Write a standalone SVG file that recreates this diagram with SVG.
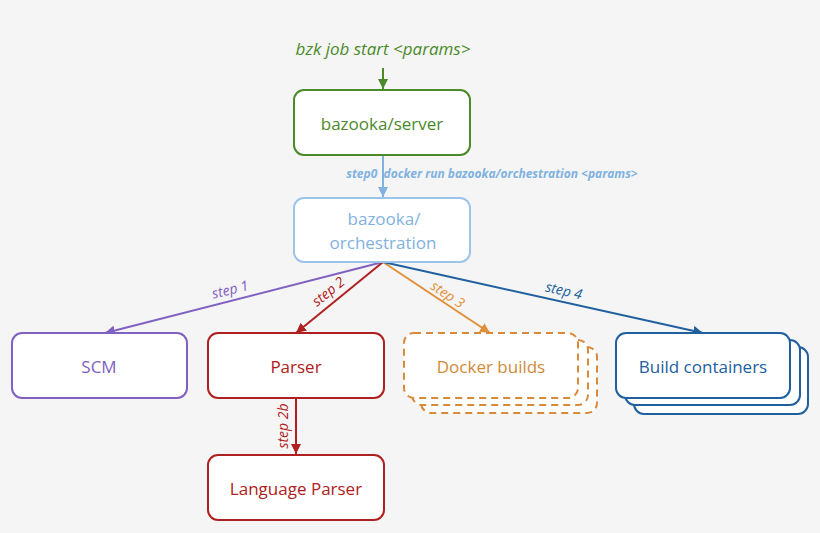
<svg xmlns="http://www.w3.org/2000/svg" width="820" height="533" viewBox="0 0 820 533">
<style>
text{font-family:"Open Sans","Liberation Sans",sans-serif;font-size:17px;text-anchor:middle;dominant-baseline:central}
.lbl{font-size:14px;font-style:italic}
.box{fill:#fff;stroke-width:2}
</style>
<defs>
<marker id="mg" viewBox="0 0 10 10" refX="10" refY="5" markerWidth="10" markerHeight="10" markerUnits="userSpaceOnUse" orient="auto"><path d="M0,0L10,5L0,10z" fill="#4a8a2a"/></marker>
<marker id="mb" viewBox="0 0 10 10" refX="10" refY="5" markerWidth="10" markerHeight="10" markerUnits="userSpaceOnUse" orient="auto"><path d="M0,0L10,5L0,10z" fill="#7fb2e0"/></marker>
<marker id="mp" viewBox="0 0 10 10" refX="10" refY="5" markerWidth="10" markerHeight="10" markerUnits="userSpaceOnUse" orient="auto"><path d="M0,0L10,5L0,10z" fill="#8060c0"/></marker>
<marker id="mr" viewBox="0 0 10 10" refX="10" refY="5" markerWidth="10" markerHeight="10" markerUnits="userSpaceOnUse" orient="auto"><path d="M0,0L10,5L0,10z" fill="#b02020"/></marker>
<marker id="mo" viewBox="0 0 10 10" refX="10" refY="5" markerWidth="10" markerHeight="10" markerUnits="userSpaceOnUse" orient="auto"><path d="M0,0L10,5L0,10z" fill="#e0903a"/></marker>
<marker id="md" viewBox="0 0 10 10" refX="10" refY="5" markerWidth="10" markerHeight="10" markerUnits="userSpaceOnUse" orient="auto"><path d="M0,0L10,5L0,10z" fill="#20609f"/></marker>
</defs>
<rect width="820" height="533" fill="#f5f5f5"/>
<g id="connectors" fill="none" stroke-width="2">
<path d="M383,68V89" stroke="#4a8a2a" marker-end="url(#mg)"/>
<path d="M383,155V197" stroke="#7fb2e0" marker-end="url(#mb)"/>
<path d="M383,262L105,333" stroke="#8060c0" marker-end="url(#mp)"/>
<path d="M383,262L296,333" stroke="#b02020" marker-end="url(#mr)"/>
<path d="M383,262L490,333" stroke="#e0903a" marker-end="url(#mo)"/>
<path d="M383,262L703,333" stroke="#20609f" marker-end="url(#md)"/>
<path d="M296,398V454" stroke="#b02020" marker-end="url(#mr)"/>
</g>
<text x="383" y="48" class="lbl" style="font-size:17px" fill="#4a8a2a">bzk job start &lt;params&gt;</text>
<text x="492" y="173" class="lbl" style="font-size:12px;font-weight:bold" fill="#7fb2e0" xml:space="preserve">step0  docker run bazooka/orchestration &lt;params&gt;</text>
<text class="lbl" fill="#8060c0" transform="translate(230,289) rotate(-14)">step 1</text>
<text class="lbl" fill="#b02020" transform="translate(328,291) rotate(-39)">step 2</text>
<text class="lbl" fill="#e0903a" transform="translate(448,294) rotate(34)">step 3</text>
<text class="lbl" fill="#20609f" transform="translate(564,290) rotate(13)">step 4</text>
<text class="lbl" fill="#b02020" transform="translate(282,426) rotate(-90)">step 2b</text>
<g id="server"><rect class="box" x="294" y="90" width="176" height="65" rx="10" stroke="#4a8a2a"/><text x="382" y="123" fill="#4a8a2a">bazooka/server</text></g>
<g id="orchestration"><rect class="box" x="294" y="198" width="176" height="64" rx="10" stroke="#9cc4ea"/><text x="384" y="218" fill="#7fb2e0">bazooka/</text><text x="383" y="242" fill="#7fb2e0">orchestration</text></g>
<g id="scm"><rect class="box" x="12" y="333" width="175" height="65" rx="10" stroke="#8060c0"/><text x="99" y="366" fill="#8060c0">SCM</text></g>
<g id="parser"><rect class="box" x="208" y="333" width="176" height="65" rx="10" stroke="#b02020"/><text x="296" y="366" fill="#b02020">Parser</text></g>
<g id="language-parser"><rect class="box" x="208" y="455" width="176" height="65" rx="10" stroke="#b02020"/><text x="296" y="488" fill="#b02020">Language Parser</text></g>
<g id="docker-builds" stroke="#d88a38" stroke-dasharray="7,5">
<rect class="box" x="421" y="347" width="176" height="66" rx="10"/>
<rect class="box" x="412" y="340" width="176" height="65" rx="10"/>
<rect class="box" x="404" y="333" width="174" height="65" rx="10"/>
<text x="491" y="366" fill="#d08a3a" stroke="none">Docker builds</text></g>
<g id="build-containers" stroke="#20609f">
<rect class="box" x="634" y="347" width="174" height="67" rx="10"/>
<rect class="box" x="625" y="340" width="175" height="65" rx="10"/>
<rect class="box" x="616" y="333" width="174" height="65" rx="10"/>
<text x="703" y="366" fill="#20609f" stroke="none">Build containers</text></g>
</svg>
